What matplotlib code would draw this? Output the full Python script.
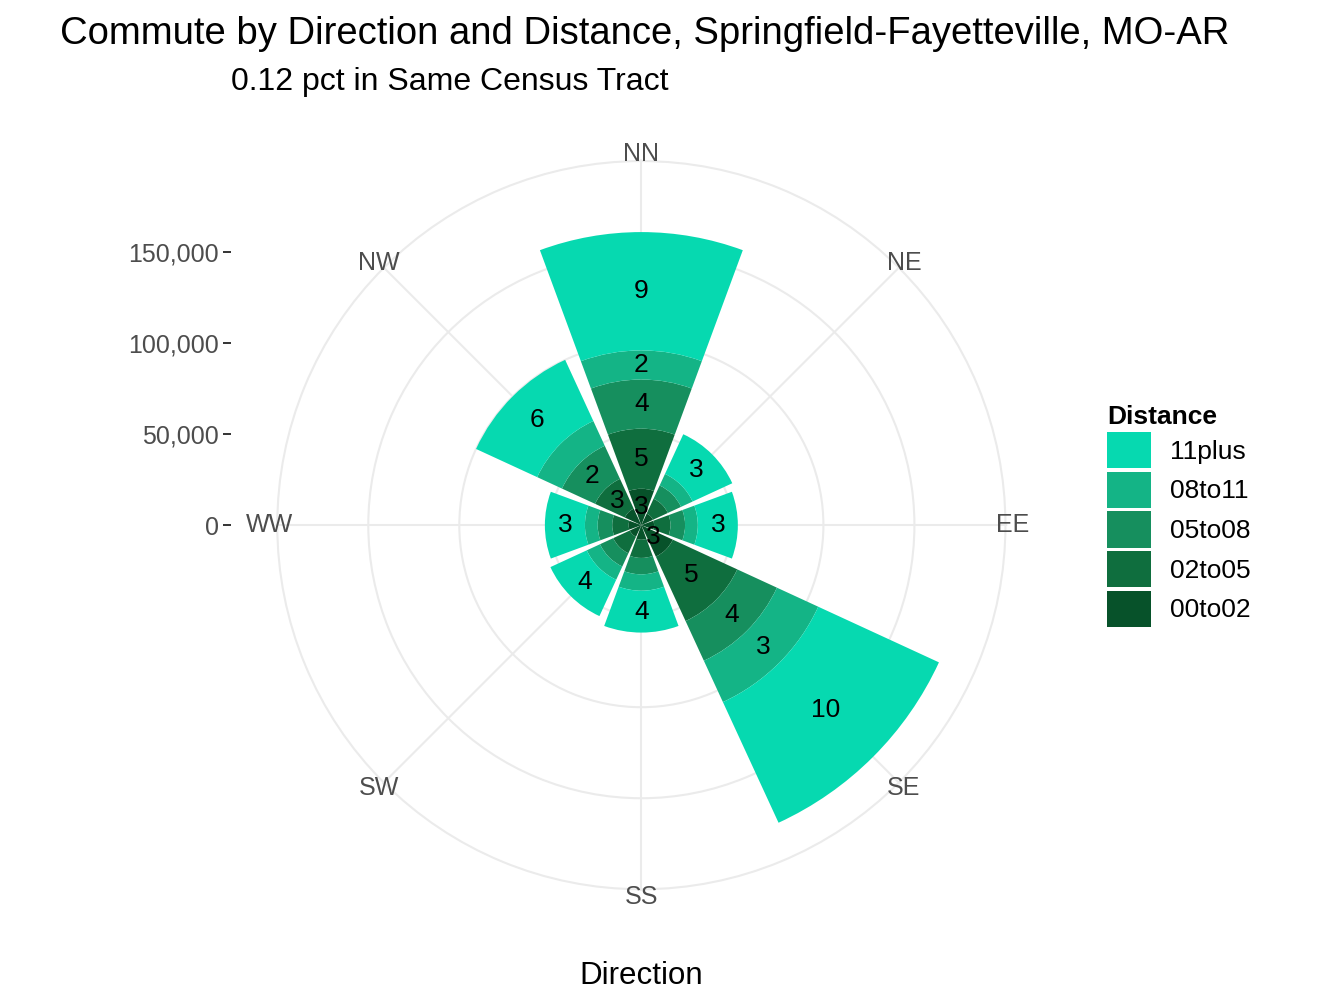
import numpy as np
import matplotlib
matplotlib.use('Agg')
from matplotlib import pyplot as plt

plt.rcParams['font.family'] = ['Liberation Sans', 'DejaVu Sans']

directions = ['NN', 'NE', 'EE', 'SE', 'SS', 'SW', 'WW', 'NW']
distances = ['00to02', '02to05', '05to08', '08to11', '11plus']
colors = ['#07522A', '#0F6E3E', '#168F5E', '#14B486', '#06D9B0']

# commuters per segment, one list per distance band (inner to outer)
counts = {
    '00to02': [20000, 7000, 7000, 19000, 8000, 7000, 7000, 10000],
    '02to05': [33000, 9000, 9000, 39000, 10000, 10000, 9000, 18000],
    '05to08': [27000, 8000, 8000, 24000, 9000, 8000, 8000, 20000],
    '08to11': [16000, 7000, 7000, 25000, 9000, 8000, 7000, 15000],
    '11plus': [65000, 24000, 22000, 73000, 23000, 22000, 22000, 37000],
}
labels = {
    '00to02': ['3', '', '', '3', '', '', '', ''],
    '02to05': ['5', '', '', '5', '', '', '', '3'],
    '05to08': ['4', '', '', '4', '', '', '', '2'],
    '08to11': ['2', '', '', '3', '', '', '', ''],
    '11plus': ['9', '3', '3', '10', '4', '4', '3', '6'],
}

fig = plt.figure(figsize=(13.44, 10.08), dpi=100)
ax = fig.add_axes([0.2047, 0.116, 0.545, 0.726], projection='polar')
ax.set_theta_zero_location('N')
ax.set_theta_direction(-1)

theta = np.arange(len(directions)) * 2 * np.pi / len(directions)
width = 2 * np.pi / len(directions) * 0.9
bottom = np.zeros(len(directions))
for d, c in zip(distances, colors):
    vals = np.array(counts[d])
    ax.bar(theta, vals, width=width, bottom=bottom, color=c, label=d, zorder=2)
    for t, b, v, lab in zip(theta, bottom, vals, labels[d]):
        if lab:
            ax.text(t, b + v / 2, lab, ha='center', va='center', fontsize=19, zorder=3)
    bottom += vals

rmax = 201000
ax.set_ylim(0, rmax)
ax.set_yticks([50000, 100000, 150000, 200000])
ax.set_yticklabels([])
ax.set_xticks(theta)
ax.set_xticklabels([])
for t, name in zip(theta, directions):
    ax.text(t, rmax * 1.015, name, ha='center', va='center', fontsize=18,
            color='#4d4d4d', zorder=4)
ax.grid(color='#ebebeb', linewidth=1.5)
ax.spines['polar'].set_visible(False)
ax.set_facecolor('white')

# radial scale drawn on the left like ggplot
ax2 = fig.add_axes([0.172, 0.479, 0.001, 0.363])
ax2.set_ylim(0, rmax)
ax2.set_yticks([0, 50000, 100000, 150000])
ax2.set_yticklabels(['0', '50,000', '100,000', '150,000'], fontsize=18, color='#4d4d4d')
ax2.set_xticks([])
for s in ax2.spines.values():
    s.set_visible(False)
ax2.tick_params(axis='y', length=6, color='#333333', width=1.4, pad=3)

fig.text(0.045, 0.966, 'Commute by Direction and Distance, Springfield-Fayetteville, MO-AR',
         fontsize=27.5, va='center')
fig.text(0.172, 0.919, '0.12 pct in Same Census Tract', fontsize=23, va='center')
fig.text(0.477, 0.032, 'Direction', fontsize=22.5, ha='center', va='center')

handles, labs = ax.get_legend_handles_labels()
leg = fig.legend(handles[::-1], labs[::-1], loc='upper left', bbox_to_anchor=(0.806, 0.622),
                 title='Distance', fontsize=19, frameon=False, handlelength=1.65,
                 handleheight=1.75, labelspacing=0.12, handletextpad=0.75, alignment='left')
leg.get_title().set_fontweight('bold')
leg.get_title().set_fontsize(19)

fig.savefig('out.png', dpi=100)
